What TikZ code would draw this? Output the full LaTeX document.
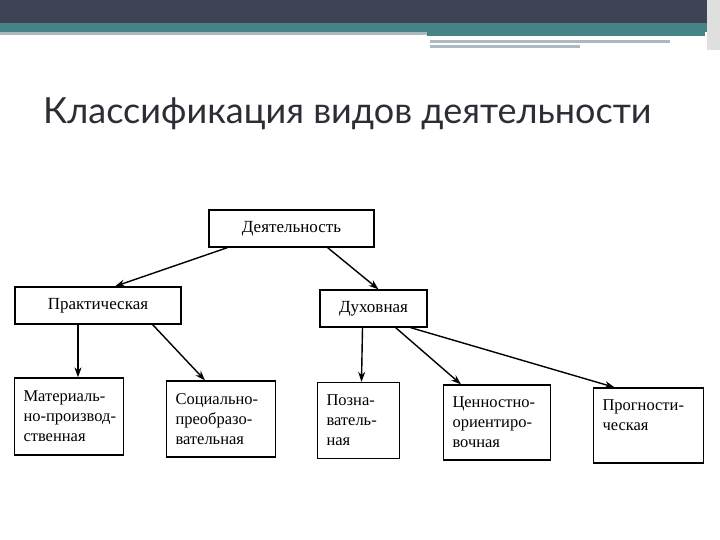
\documentclass[tikz,border=0pt]{standalone}
\usepackage{fontspec}
\setmainfont{Liberation Serif}
\newfontfamily\titlefont{Lato}
\usepackage{tikz}
\usetikzlibrary{arrows,arrows.meta,positioning}
\definecolor{headDark}{RGB}{63,68,85}
\definecolor{headTeal}{RGB}{69,131,135}
\definecolor{headGray}{RGB}{170,186,190}
\definecolor{titleGray}{RGB}{45,45,55}

\tikzset{
  kind/.style={draw,line width=1.3pt,font=\fontsize{17}{20}\selectfont,inner sep=0pt},
  subkind/.style={draw,line width=1.3pt,font=\fontsize{16.5}{20}\selectfont,align=left,inner xsep=9pt,inner ysep=0pt},
  link/.style={-{Stealth[length=10pt,width=7pt]},line width=1.4pt}
}

\begin{document}
\begin{tikzpicture}[x=1pt,y=-1pt]
  \useasboundingbox (0,0) rectangle (720,540);
  % header bars
  \fill[headDark] (0,0) rectangle (720,23);
  \fill[headTeal] (0,23) rectangle (720,32);
  \fill[headGray] (0,32) rectangle (427,35);
  \fill[headTeal] (427,32) rectangle (705,36);
  \fill[headGray] (430,40) rectangle (670,43);
  \fill[headGray] (430,45) rectangle (580,48);
  \fill[gray!25] (707,0) rectangle (720,50);
  \node[anchor=base west,inner sep=0pt,text=titleGray,font=\titlefont\fontsize{36}{40}\selectfont] (title) at (43,124) {Классификация видов деятельности};

  % top level
  \node[kind,minimum width=165pt,minimum height=37pt] (act) at (291.5,228.5) {Деятельность};
  \node[kind,minimum width=166pt,minimum height=37pt] (prac) at (98,305.5) {Практическая};
  \node[kind,minimum width=107pt,minimum height=37pt] (spir) at (373.5,308.5) {Духовная};

  % bottom level
  \node[subkind,text width=91pt,minimum height=77pt] (mat) at (69,416.5) {\mbox{Материаль-}\\\mbox{но-производ-}\\\mbox{ственная}};
  \node[subkind,text width=91pt,minimum height=76pt] (soc) at (221,419) {Социально-\\преобразо-\\вательная};
  \node[subkind,text width=64pt,minimum height=76pt] (cog) at (358.5,420.5) {Позна-\\ватель-\\ная};
  \node[subkind,text width=89pt,minimum height=75pt] (val) at (497,422.5) {Ценностно-\\ориентиро-\\вочная};
  \node[subkind,text width=92pt,minimum height=75pt] (prog) at (648.5,425.5) {Прогности-\\ческая\\\mbox{}};

  % arrows
  \draw[link] ([xshift=19pt]act.south west) -- ([xshift=17pt]prac.north);
  \draw[link] ([xshift=-47pt]act.south east) -- ([xshift=5pt]spir.north);
  \draw[link] ([xshift=-20pt]prac.south) -- ([xshift=9pt]mat.north);
  \draw[link] ([xshift=-29pt]prac.south east) -- ([xshift=-16pt]soc.north);
  \draw[link] ([xshift=-11pt]spir.south) -- ([xshift=3pt]cog.north);
  \draw[link] ([xshift=-32pt]spir.south east) -- ([xshift=-36pt]val.north);
  \draw[link] ([xshift=-17pt]spir.south east) -- ([xshift=-34pt]prog.north);
\end{tikzpicture}
\end{document}
